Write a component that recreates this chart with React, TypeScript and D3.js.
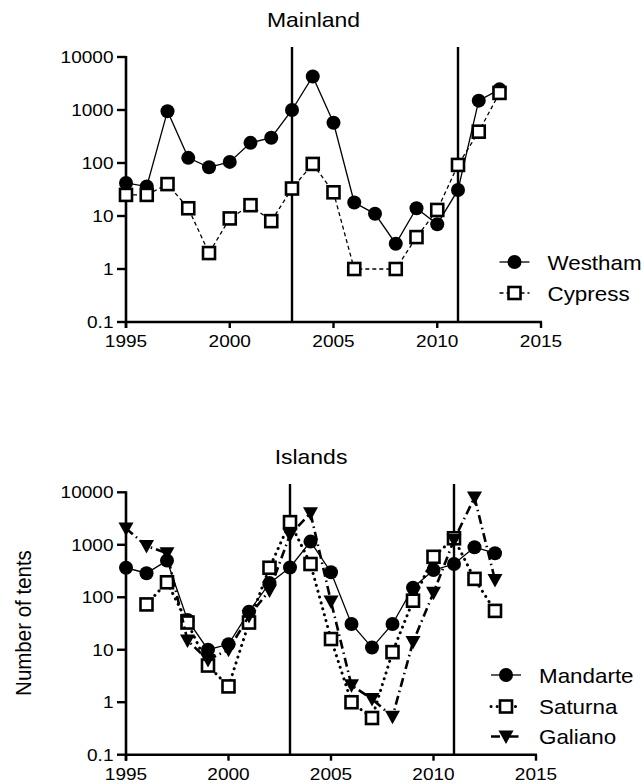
import { scaleLinear, scaleLog, line } from "d3";

// years on the x axis
const years = [
  1995, 1996, 1997, 1998, 1999, 2000, 2001, 2002, 2003, 2004, 2005, 2006,
  2007, 2008, 2009, 2010, 2011, 2012, 2013,
];

// Mainland
const westham = [42, 36, 950, 125, 83, 105, 240, 300, 1000, 4300, 575, 18, 11, 3, 14, 7, 31, 1500, 2450];
const cypress = [25, 25, 40, 14, 2, 9, 16, 8, 33, 96, 28, 1, null, 1, 4, 13, 92, 390, 2100];

// Islands
const mandarte = [365, 287, 500, 37, 10, 12.7, 53, 186, 370, 1150, 300, 31, 11, 31, 152, 330, 430, 900, 690];
const saturna = [null, 73, 193, 33, 5, 2, 33, 365, 2700, 430, 16, 1, 0.5, 9, 86, 590, 1330, 224, 55];
const galiano = [2050, 950, 690, 15, 6.4, 10, 44, 135, 1550, 4000, 83, 2.1, 1.15, 0.53, 14, 122, 1230, 8000, 214];

const yTicks = [0.1, 1, 10, 100, 1000, 10000];
const yTickLabels = ["0.1", "1", "10", "100", "1000", "10000"];
const xTicks = [1995, 2000, 2005, 2010, 2015];
const eventYears = [2003, 2011];

const FONT = "'Liberation Sans', Arial, Helvetica, sans-serif";
const SX = 1.12; // source picture is stretched a bit horizontally

type Marker = "circle" | "square" | "triangle";
type Series = {
  name: string;
  values: (number | null)[];
  marker: Marker;
  dash?: string;
  width: number;
  cap?: "round" | "butt";
};

type Panel = {
  title: string;
  x0: number;
  x1: number;
  yTop: number;
  yBottom: number;
  lineTop: number;
  titleY: number;
  series: Series[];
  legendX: number; // marker centre
  legendY: number[];
};

const panels: Panel[] = [
  {
    title: "Mainland",
    x0: 126,
    x1: 541,
    yTop: 57,
    yBottom: 322,
    lineTop: 47,
    titleY: 27,
    series: [
      { name: "Westham", values: westham, marker: "circle", width: 1.3 },
      { name: "Cypress", values: cypress, marker: "square", dash: "4,3", width: 1.3 },
    ],
    legendX: 514.5,
    legendY: [262, 293],
  },
  {
    title: "Islands",
    x0: 126,
    x1: 536,
    yTop: 492.3,
    yBottom: 754.7,
    lineTop: 484,
    titleY: 464,
    series: [
      { name: "Mandarte", values: mandarte, marker: "circle", width: 1.3 },
      { name: "Saturna", values: saturna, marker: "square", dash: "0.1,6", width: 3, cap: "round" },
      { name: "Galiano", values: galiano, marker: "triangle", dash: "9,4,1.5,4", width: 2.6 },
    ],
    legendX: 506,
    legendY: [675, 706.5, 736.5],
  },
];

function MarkerShape({ type, x, y }: { type: Marker; x: number; y: number }) {
  if (type === "circle") return <circle cx={x} cy={y} r={7} fill="#000" />;
  if (type === "square")
    return (
      <rect x={x - 6} y={y - 6} width={12} height={12} fill="#fff" stroke="#000" strokeWidth={2.6} />
    );
  return <path d={`M${x - 7.5},${y - 6} L${x + 7.5},${y - 6} L${x},${y + 7.5} Z`} fill="#000" />;
}

function Txt({
  x,
  y,
  size,
  anchor,
  children,
  rotate,
}: {
  x: number;
  y: number;
  size: number;
  anchor: "start" | "middle" | "end";
  children: React.ReactNode;
  rotate?: number;
}) {
  return (
    <text
      transform={`translate(${x},${y}) scale(${SX},1)${rotate ? ` rotate(${rotate})` : ""}`}
      fontFamily={FONT}
      fontSize={size}
      textAnchor={anchor}
      fill="#000"
    >
      {children}
    </text>
  );
}

function PanelChart({ p }: { p: Panel }) {
  const x = scaleLinear().domain([1995, 2015]).range([p.x0, p.x1]);
  const y = scaleLog().domain([0.1, 10000]).range([p.yBottom, p.yTop]);

  return (
    <g>
      <Txt x={(p.x0 + p.x1) / 2 - 20} y={p.titleY} size={20.5} anchor="middle">
        {p.title}
      </Txt>

      {/* vertical event lines */}
      {eventYears.map((yr) => (
        <line key={yr} x1={x(yr)} x2={x(yr)} y1={p.lineTop} y2={p.yBottom} stroke="#000" strokeWidth={2.4} />
      ))}

      {/* y axis */}
      <line x1={p.x0} x2={p.x0} y1={p.yTop - 1} y2={p.yBottom + 6} stroke="#000" strokeWidth={2.6} />
      {yTicks.map((t, i) => (
        <g key={t}>
          <line x1={p.x0 - 9} x2={p.x0} y1={y(t)} y2={y(t)} stroke="#000" strokeWidth={2.4} />
          <Txt x={p.x0 - 12.5} y={y(t) + 6} size={17} anchor="end">
            {yTickLabels[i]}
          </Txt>
        </g>
      ))}

      {/* x axis */}
      <line x1={p.x0 - 1} x2={p.x1 + 1} y1={p.yBottom} y2={p.yBottom} stroke="#000" strokeWidth={2.6} />
      {xTicks.map((t) => (
        <g key={t}>
          <line x1={x(t)} x2={x(t)} y1={p.yBottom} y2={p.yBottom + 6} stroke="#000" strokeWidth={2.4} />
          <Txt x={x(t)} y={p.yBottom + 25} size={17} anchor="middle">
            {t}
          </Txt>
        </g>
      ))}

      {/* series */}
      {p.series.map((s) => {
        const pts = years
          .map((yr, i) => [yr, s.values[i]] as [number, number | null])
          .filter((d): d is [number, number] => d[1] !== null);
        const path = line<[number, number]>()
          .x((d) => x(d[0]))
          .y((d) => y(d[1]))(pts);
        return (
          <g key={s.name}>
            <path
              d={path ?? ""}
              fill="none"
              stroke="#000"
              strokeWidth={s.width}
              strokeDasharray={s.dash}
              strokeLinecap={s.cap ?? "butt"}
            />
            {pts.map((d) => (
              <MarkerShape key={d[0]} type={s.marker} x={x(d[0])} y={y(d[1])} />
            ))}
          </g>
        );
      })}

      {/* legend */}
      {p.series.map((s, i) => {
        const ly = p.legendY[i];
        return (
          <g key={s.name}>
            <line
              x1={p.legendX - 15}
              x2={p.legendX + 15}
              y1={ly}
              y2={ly}
              stroke="#000"
              strokeWidth={s.width}
              strokeDasharray={s.dash}
              strokeLinecap={s.cap ?? "butt"}
            />
            <MarkerShape type={s.marker} x={p.legendX} y={ly} />
            <Txt x={p.legendX + 33} y={ly + 7.5} size={20} anchor="start">
              {s.name}
            </Txt>
          </g>
        );
      })}
    </g>
  );
}

export default function App() {
  return (
    <svg
      width={644}
      height={784}
      style={{ position: "absolute", left: 0, top: 0, background: "#fff" }}
    >
      {panels.map((p) => (
        <PanelChart key={p.title} p={p} />
      ))}
      <Txt x={31} y={623} size={20.5} anchor="middle" rotate={-90}>
        Number of tents
      </Txt>
    </svg>
  );
}
